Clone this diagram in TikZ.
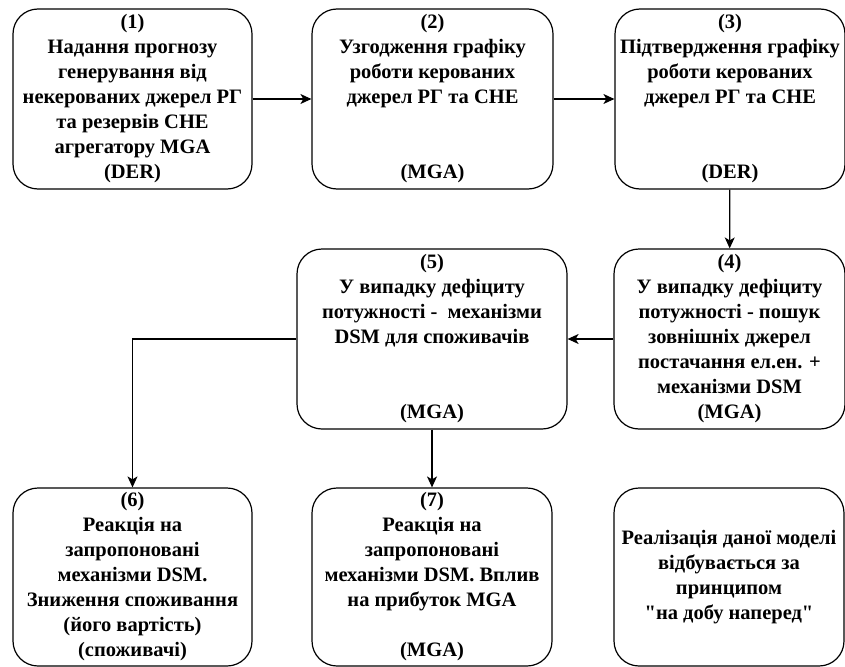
\documentclass[tikz,border=0pt]{standalone}
\usepackage{fontspec}
\setmainfont{Liberation Serif}
\newfontfamily\boxfont{Liberation Serif}
\usetikzlibrary{arrows.meta, positioning}

\begin{document}
\begin{tikzpicture}[x=1pt, y=-1pt,
  stage/.style={draw, line width=1.2pt, rounded corners=25pt, align=center,
    font=\boxfont\bfseries\fontsize{20.5}{25}\selectfont, inner sep=0pt, minimum height=180pt},
  flow/.style={-{Stealth[length=11pt, width=10pt, inset=3pt]}, line width=1.2pt}]
  \useasboundingbox (0,0) rectangle (845,666);

  % Top row
  \node[stage, minimum width=239pt] (s1) at (132.5, 99)
    {(1)\\Надання прогнозу\\генерування від\\некерованих джерел РГ\\та резервів СНЕ\\агрегатору MGA\\(DER)};
  \node[stage, minimum width=241pt] (s2) at (432.5, 99)
    {(2)\\Узгодження графіку\\роботи керованих\\джерел РГ та СНЕ\\[50pt](MGA)};
  \node[stage, minimum width=230pt] (s3) at (730, 99)
    {(3)\\Підтвердження графіку\\роботи керованих\\джерел РГ та СНЕ\\[50pt](DER)};

  % Middle row
  \node[stage, minimum width=231pt] (s4) at (729.5, 339)
    {(4)\\У випадку дефіциту\\потужності - пошук\\зовнішніх джерел\\постачання ел.ен. +\\механізми DSM\\(MGA)};
  \node[stage, minimum width=270pt] (s5) at (432, 339)
    {(5)\\У випадку дефіциту\\потужності -\ \ механізми\\DSM для споживачів\\[50pt](MGA)};

  % Bottom row
  \node[stage, minimum width=239pt, minimum height=178pt] (s6) at (132.5, 577)
    {(6)\\Реакція на\\запропоновані\\механізми DSM.\\Зниження споживання\\(його вартість)\\(споживачі)};
  \node[stage, minimum width=240pt, minimum height=178pt] (s7) at (432, 577)
    {(7)\\Реакція на\\запропоновані\\механізми DSM. Вплив\\на прибуток MGA\\[25pt](MGA)};
  \node[stage, minimum width=230pt, minimum height=178pt] (note) at (729, 577)
    {Реалізація даної моделі\\відбувається за\\принципом\\"на добу наперед"};

  % Connectors
  \draw[flow] (s1) -- (s2);
  \draw[flow] (s2) -- (s3);
  \draw[flow] (s3) -- (s4);
  \draw[flow] (s4) -- (s5);
  \draw[flow] (s5.west) -| (s6.north);
  \draw[flow] (s5) -- (s7);
\end{tikzpicture}
\end{document}
